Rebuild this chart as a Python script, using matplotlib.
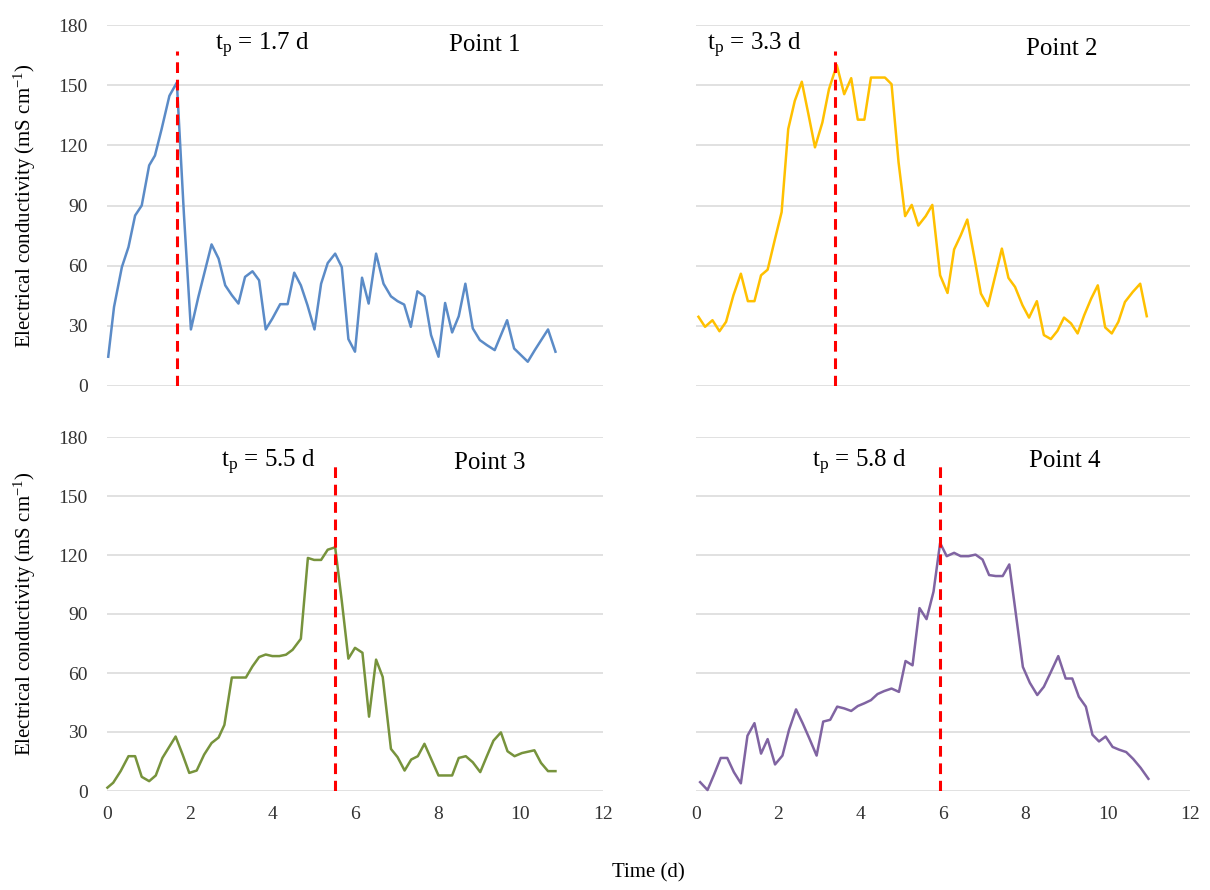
import matplotlib
matplotlib.use("Agg")
import matplotlib.pyplot as plt

plt.rcParams["font.family"] = ["Liberation Serif", "DejaVu Serif"]
plt.rcParams["mathtext.fontset"] = "custom"
plt.rcParams["mathtext.rm"] = "Liberation Serif"
plt.rcParams["mathtext.it"] = "Liberation Serif:italic"

# Point 1
t1 = [0.03, 0.17, 0.36, 0.52, 0.68, 0.84, 1.02, 1.16, 1.32, 1.51, 1.69, 1.86, 2.03, 2.21,
      2.53, 2.70, 2.86, 3.02, 3.18, 3.34, 3.52, 3.68, 3.84, 4.00, 4.19, 4.37, 4.53, 4.69,
      4.85, 5.02, 5.18, 5.34, 5.52, 5.68, 5.84, 6.00, 6.17, 6.33, 6.51, 6.69, 6.87, 7.03,
      7.19, 7.35, 7.51, 7.68, 7.84, 8.02, 8.18, 8.35, 8.51, 8.67, 8.85, 9.02, 9.19, 9.38,
      9.68, 9.85, 10.18, 10.35, 10.67, 10.85]
ec1 = [14.6, 39.4, 59.3, 69.3, 85, 90, 110, 114.9, 128, 144.7, 151.3, 86, 28.2, 44.4,
       70.6, 63.5, 50.2, 45.3, 41.1, 54.4, 57.2, 52.7, 28.2, 33.6, 40.8, 40.8, 56.5, 50.2,
       40.3, 28.2, 51, 61.3, 66, 59.3, 23.4, 17.1, 54, 41.1, 66, 51, 44.7, 42.3,
       40.6, 29.5, 47.2, 44.7, 25.4, 14.6, 41.4, 26.7, 34.8, 51, 28.7, 22.9, 20.4, 17.9,
       32.8, 18.7, 12.1, 17.9, 28.2, 17.1]

# Point 2
t2 = [0.06, 0.22, 0.40, 0.57, 0.73, 0.91, 1.09, 1.26, 1.42, 1.58, 1.74, 1.92, 2.08, 2.24,
      2.40, 2.57, 2.73, 2.89, 3.07, 3.23, 3.42, 3.60, 3.77, 3.93, 4.09, 4.25, 4.59, 4.75,
      4.92, 5.08, 5.24, 5.40, 5.58, 5.74, 5.93, 6.11, 6.27, 6.43, 6.59, 6.76, 6.92, 7.09,
      7.43, 7.59, 7.75, 7.93, 8.09, 8.28, 8.45, 8.62, 8.78, 8.94, 9.11, 9.27, 9.43, 9.60,
      9.76, 9.94, 10.10, 10.26, 10.42, 10.61, 10.79, 10.95]
ec2 = [34.5, 29.5, 32.8, 27.3, 32, 45.3, 56, 42.3, 42.3, 55.2, 58, 73.4, 86.7, 128.1,
       142.2, 151.7, 135.6, 119, 131.4, 148, 160, 145.5, 153.5, 132.8, 132.8, 153.8, 153.8, 150.5,
       111.6, 84.7, 90.3, 80, 84.7, 90.3, 55.2, 46.4, 68.1, 75.1, 83, 64.3, 46.1, 39.8,
       68.5, 53.9, 49.4, 40.3, 34.1, 42.3, 25.4, 23.4, 27.5, 34.1, 31.2, 26.2, 35.3, 43.6,
       50.2, 29.2, 26.2, 32, 41.9, 46.9, 51, 34.8]

# Point 3
t3 = [0.01, 0.15, 0.33, 0.52, 0.68, 0.84, 1.02, 1.18, 1.34, 1.66, 1.83, 1.99, 2.17, 2.35,
      2.53, 2.70, 2.84, 3.02, 3.36, 3.52, 3.68, 3.84, 4.00, 4.17, 4.33, 4.49, 4.69, 4.86,
      5.01, 5.18, 5.34, 5.52, 5.68, 5.84, 6.00, 6.18, 6.34, 6.51, 6.67, 6.87, 7.03, 7.20,
      7.36, 7.52, 7.68, 8.02, 8.35, 8.51, 8.68, 8.85, 9.03, 9.19, 9.35, 9.53, 9.69, 9.86,
      10.04, 10.34, 10.50, 10.67, 10.85]
ec3 = [1.7, 4.2, 10.1, 17.7, 17.7, 7.2, 5.0, 7.9, 16.8, 27.7, 18.5, 9.2, 10.4, 18.5,
       24.4, 27.2, 33.6, 57.7, 57.7, 63.4, 68.1, 69.4, 68.6, 68.6, 69.3, 71.8, 77.4, 118.5,
       117.5, 117.5, 122.7, 123.9, 96.7, 67.3, 72.8, 70.3, 37.8, 66.8, 58, 21.4, 17.2, 10.4,
       16, 17.7, 24, 7.9, 7.9, 16.8, 17.7, 14.6, 9.6, 17.7, 25.6, 29.8, 20.2, 17.7,
       19.3, 20.7, 14.3, 10.1, 10.1]

# Point 4
t4 = [0.10, 0.28, 0.44, 0.60, 0.76, 0.92, 1.09, 1.25, 1.42, 1.58, 1.74, 1.92, 2.10, 2.26,
      2.43, 2.59, 2.75, 2.93, 3.09, 3.26, 3.43, 3.60, 3.77, 3.93, 4.09, 4.25, 4.41, 4.57,
      4.75, 4.93, 5.09, 5.26, 5.43, 5.60, 5.77, 5.93, 6.09, 6.27, 6.43, 6.62, 6.79, 6.96,
      7.12, 7.28, 7.45, 7.61, 7.77, 7.94, 8.11, 8.29, 8.45, 8.62, 8.80, 8.98, 9.14, 9.30,
      9.47, 9.63, 9.79, 9.95, 10.12, 10.28, 10.45, 10.62, 10.80, 10.99]
ec4 = [4.5, 0.5, 8.4, 16.8, 16.8, 9.6, 3.9, 28.1, 34.5, 19, 26.4, 13.5, 18, 31.1,
       41.5, 34.5, 26.9, 18, 35.3, 36.2, 42.9, 42, 40.7, 43.2, 44.6, 46.2, 49.3, 50.8,
       52.1, 50.4, 66.1, 63.9, 93, 87.4, 101.4, 126.1, 119.4, 121.1, 119.4, 119.4, 120.2, 117.7,
       109.8, 109.3, 109.3, 115.2, 90, 63.1, 55, 48.8, 53, 60.5, 68.6, 57.2, 57.2, 47.9,
       42.9, 28.6, 25.2, 27.7, 22.4, 21, 19.8, 16.3, 11.8, 6.2]

tp_labels = ["1.7", "3.3", "5.5", "5.8"]
tp_lines = [1.70, 3.38, 5.52, 5.92]
point_names = ["Point 1", "Point 2", "Point 3", "Point 4"]
colors = ["#5B8BC7", "#FFC000", "#77933C", "#8064A2"]

W, H = 1210, 890
fig = plt.figure(figsize=(W / 100, H / 100), dpi=100)

# axes boxes in pixels: (left, bottom(from top), width, height)
boxes = [(107, 386, 496, 361), (696, 386, 494, 361),
         (107, 791, 496, 354), (696, 791, 494, 354)]
tp_pos = [(3.75, 170), (1.43, 170), (3.9, 167), (3.98, 167)]
pt_pos = [(9.15, 170), (8.89, 168), (9.27, 167), (8.96, 168)]
series = [(t1, ec1), (t2, ec2), (t3, ec3), (t4, ec4)]

for i, (l, b, w, h) in enumerate(boxes):
    ax = fig.add_axes([l / W, (H - b) / H, w / W, h / H])
    ax.set_xlim(0, 12)
    ax.set_ylim(0, 180)
    ax.set_yticks(range(0, 181, 30))
    ax.set_xticks(range(0, 13, 2))
    ax.grid(axis="y", color="#D9D9D9", lw=1.1)
    ax.set_axisbelow(True)
    for s in ax.spines.values():
        s.set_visible(False)
    ax.tick_params(length=0, labelsize=14, labelcolor="#333333")
    ax.tick_params(axis="y", pad=14)
    ax.tick_params(axis="x", pad=11)
    if i % 2 == 1:
        ax.set_yticklabels([])
    if i < 2:
        ax.set_xticklabels([])
    if i % 2 == 0:
        fig.text(25 / W, 1 - (b - h / 2) / H, "Electrical conductivity (mS cm$^{-1}$)",
                 fontsize=15, rotation=90, ha="center", va="center")

    x, y = series[i]
    ax.plot(x, y, color=colors[i], lw=1.8, clip_on=False)
    ax.vlines(tp_lines[i], 0, 167, colors="#FF0000", linestyles=(0, (3.5, 2.2)), lw=2.2, zorder=3)
    ax.text(*tp_pos[i], "t$_{\\rm p}$ = " + tp_labels[i] + " d", fontsize=18, ha="center", va="center")
    ax.text(*pt_pos[i], point_names[i], fontsize=18, ha="center", va="center")

fig.text(648 / W, 1 - 873 / H, "Time (d)", fontsize=15, ha="center", va="center")

fig.savefig("out.png", dpi=100)
